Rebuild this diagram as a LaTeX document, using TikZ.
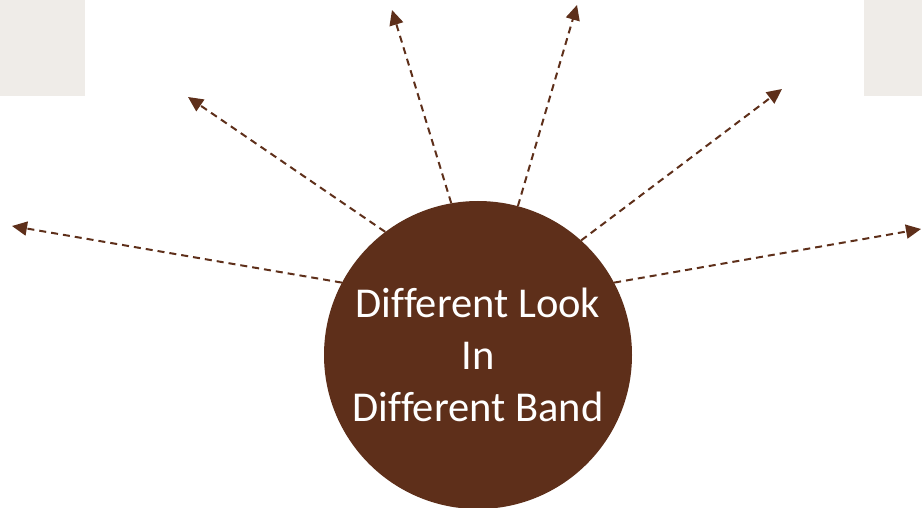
\documentclass[tikz,border=0pt]{standalone}
\usepackage{fontspec}
\setmainfont{Carlito}[Ligatures={NoCommon}]
\usetikzlibrary{arrows.meta}
\definecolor{brownc}{HTML}{5E2F1A}
\definecolor{panel}{HTML}{EFECE8}
\tikzset{
  ray/.style={draw=brownc, line width=2pt, dash pattern=on 7pt off 5pt, -{Triangle[length=15pt,width=14pt]}},
  hub/.style={circle, fill=brownc, minimum size=308pt, inner sep=0pt, text=white, align=center, font=\fontsize{42.5pt}{52pt}\selectfont},
  panelbox/.style={fill=panel, draw=none}
}
\begin{document}
\begin{tikzpicture}[x=1pt,y=-1pt]
\useasboundingbox (0,0) rectangle (922,508);
\fill[panelbox] (0,0) rectangle (85,96);
\fill[panelbox] (864,0) rectangle (922,96);
\node[hub] (c) at (478,355) {Different Look\\In\\Different Band};
\coordinate (e1) at (12,226);
\coordinate (e2) at (188,97);
\coordinate (e3) at (392,10);
\coordinate (e4) at (577,5);
\coordinate (e5) at (782,89);
\coordinate (e6) at (921,229);
\draw[ray] (c.152) -- (e1);
\draw[ray] (c.127.5) -- (e2);
\draw[ray] (c.100.6) -- (e3);
\draw[ray] (c.75.2) -- (e4);
\draw[ray] (c.48.4) -- (e5);
\draw[ray] (c.28) -- (e6);
\end{tikzpicture}
\end{document}
